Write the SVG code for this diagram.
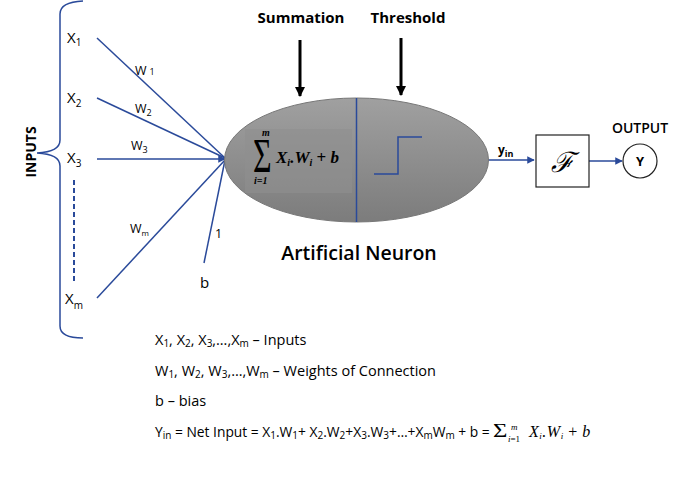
<svg xmlns="http://www.w3.org/2000/svg" width="687" height="478" viewBox="0 0 687 478">
<style>
.lbl{font-family:"Open Sans","Liberation Sans",sans-serif;font-size:15px;fill:#000}
.w{font-family:"Open Sans","Liberation Sans",sans-serif;font-size:12.5px;fill:#000}
.sub{font-size:10px}
.blue{stroke:#2a4a9a;stroke-width:1.5;fill:none}
.head{font-family:"Open Sans","Liberation Sans",sans-serif;font-weight:700;font-size:15px;fill:#000}
.math{font-family:"Liberation Serif",serif;font-style:italic;font-weight:700;fill:#000}
.note{font-family:"Open Sans","Liberation Sans",sans-serif;font-size:14.5px;fill:#000}
.m2{font-family:"Liberation Serif",serif;font-style:italic;fill:#000}
</style>
<defs>
<linearGradient id="g" x1="0" y1="0" x2="0" y2="1">
<stop offset="0" stop-color="#a0a0a0"/>
<stop offset="1" stop-color="#7c7c7c"/>
</linearGradient>
<marker id="ab" viewBox="0 0 10 10" refX="9" refY="5" markerWidth="5" markerHeight="5" orient="auto"><path d="M0,0L10,5L0,10z" fill="#2a4a9a"/></marker>
<marker id="ak" viewBox="0 0 10 10" refX="9" refY="5" markerWidth="3.5" markerHeight="3.5" orient="auto"><path d="M0,0L10,5L0,10z" fill="#000"/></marker>
</defs>

<g id="inputs">
<path class="blue" d="M83,1 Q60,2 60,14 L60,140 Q60,152 37,153 Q60,154 60,166 L60,326 Q60,338 83,338"/>
<text class="head" transform="translate(36,152) rotate(-90)" text-anchor="middle" style="font-size:14px">INPUTS</text>
<text class="lbl" x="67" y="43">X<tspan class="sub" dy="3">1</tspan></text>
<text class="lbl" x="67" y="103">X<tspan class="sub" dy="4">2</tspan></text>
<text class="lbl" x="67" y="163">X<tspan class="sub" dy="4">3</tspan></text>
<text class="lbl" x="65" y="304">X<tspan class="sub" dy="5">m</tspan></text>
<line x1="74" y1="180" x2="74" y2="283" stroke="#2a4a9a" stroke-width="2" stroke-dasharray="5,3"/>
<text class="lbl" x="200" y="288">b</text>
</g>

<g id="connectors">
<line class="blue" x1="97" y1="38" x2="225" y2="158"/>
<line class="blue" x1="97" y1="98" x2="225" y2="158"/>
<line class="blue" x1="97" y1="159" x2="225" y2="159" marker-end="url(#ab)"/>
<line class="blue" x1="97" y1="298" x2="225" y2="160"/>
<line class="blue" x1="204" y1="263" x2="225" y2="160"/>
<text class="w" x="135" y="75">W<tspan dx="3" style="font-size:9px">1</tspan></text>
<text class="w" x="135" y="113">W<tspan style="font-size:9px" dy="3">2</tspan></text>
<text class="w" x="131" y="150">W<tspan style="font-size:9px" dy="3">3</tspan></text>
<text class="w" x="130" y="233">W<tspan style="font-size:8px" dy="3">m</tspan></text>
<text class="w" x="215" y="238">1</text>
<line x1="300" y1="40" x2="300" y2="96" stroke="#000" stroke-width="3" marker-end="url(#ak)"/>
<line x1="401" y1="38" x2="401" y2="95" stroke="#000" stroke-width="3" marker-end="url(#ak)"/>
<line class="blue" x1="488" y1="160" x2="534" y2="160" marker-end="url(#ab)"/>
<text class="head" x="498" y="154" style="font-size:12px">y<tspan style="font-size:9px" dy="3">in</tspan></text>
<line class="blue" x1="589" y1="161" x2="622" y2="161" marker-end="url(#ab)"/>
</g>

<g id="neuron">
<ellipse cx="356.5" cy="160" rx="132" ry="62" fill="url(#g)" stroke="#777" stroke-width="1"/>
<rect x="245" y="129" width="107" height="64" fill="#8f8f8f" opacity="0.6"/>
<line x1="356.5" y1="98" x2="356.5" y2="222" stroke="#2a4a9a" stroke-width="1.5"/>
<text transform="translate(253,172) scale(1,1.5)" font-family="'Liberation Serif',serif" font-size="32">Σ</text>
<text class="math" x="262" y="136" font-size="10">m</text>
<text class="math" x="254" y="184" font-size="10">i=1</text>
<text class="math" x="276" y="163" font-size="17">X<tspan font-size="10" dy="3">i</tspan><tspan dy="-3">.W</tspan><tspan font-size="10" dy="3">i</tspan><tspan dy="-3" font-style="normal"> + </tspan>b</text>
<polyline points="374,174 398,174 398,137 422,137" fill="none" stroke="#2a4a9a" stroke-width="1.5"/>
<text class="head" x="301" y="23" text-anchor="middle">Summation</text>
<text class="head" x="408" y="23" text-anchor="middle">Threshold</text>
<text x="359" y="260" text-anchor="middle" font-family="'Open Sans','Liberation Sans',sans-serif" font-size="19.5" font-weight="600">Artificial Neuron</text>
</g>

<g id="activation">
<rect x="536" y="135" width="53" height="52" fill="#fff" stroke="#222" stroke-width="1.2"/>
<text x="562" y="172" text-anchor="middle" font-family="'DejaVu Serif',serif" font-style="italic" font-size="28">ℱ</text>
</g>

<g id="output">
<circle cx="640" cy="161" r="17" fill="#fff" stroke="#222" stroke-width="1.2"/>
<text class="head" x="640" y="166" text-anchor="middle" style="font-size:13px">Y</text>
<text x="640" y="133" text-anchor="middle" font-family="'Open Sans','Liberation Sans',sans-serif" font-size="14" font-weight="600">OUTPUT</text>
</g>

<g id="legend">
<text class="note" x="155" y="345">X<tspan font-size="10" dy="2">1</tspan><tspan dy="-2">, X</tspan><tspan font-size="10" dy="2">2</tspan><tspan dy="-2">, X</tspan><tspan font-size="10" dy="2">3</tspan><tspan dy="-2">,…,X</tspan><tspan font-size="10" dy="2">m</tspan><tspan dy="-2"> – Inputs</tspan></text>
<text class="note" x="155" y="376">W<tspan font-size="10" dy="2">1</tspan><tspan dy="-2">, W</tspan><tspan font-size="10" dy="2">2</tspan><tspan dy="-2">, W</tspan><tspan font-size="10" dy="2">3</tspan><tspan dy="-2">,…,W</tspan><tspan font-size="10" dy="2">m</tspan><tspan dy="-2"> – Weights of Connection</tspan></text>
<text class="note" x="155" y="406">b – bias</text>
<text class="note" x="155" y="437" style="font-size:13.8px">Y<tspan font-size="10" dy="2">in</tspan><tspan dy="-2"> = Net Input = X</tspan><tspan font-size="10" dy="2">1</tspan><tspan dy="-2">.W</tspan><tspan font-size="10" dy="2">1</tspan><tspan dy="-2">+ X</tspan><tspan font-size="10" dy="2">2</tspan><tspan dy="-2">.W</tspan><tspan font-size="10" dy="2">2</tspan><tspan dy="-2">+X</tspan><tspan font-size="10" dy="2">3</tspan><tspan dy="-2">.W</tspan><tspan font-size="10" dy="2">3</tspan><tspan dy="-2">+…+X</tspan><tspan font-size="10" dy="2">m</tspan><tspan dy="-2">W</tspan><tspan font-size="10" dy="2">m</tspan><tspan dy="-2"> + b =</tspan></text>
<text transform="translate(493,437) scale(1.3,1)" font-family="'Liberation Serif',serif" font-size="19">Σ</text>
<text class="m2" x="511" y="430" font-size="9">m</text>
<text class="m2" x="508" y="442" font-size="9">i<tspan font-style="normal">=1</tspan></text>
<text class="m2" x="529" y="437" font-size="16" letter-spacing="0.5">X<tspan font-size="9" dy="2">i</tspan><tspan dy="-2">.W</tspan><tspan font-size="9" dy="2">i</tspan><tspan dy="-2" font-style="normal"> + </tspan>b</text>
</g>
</svg>
